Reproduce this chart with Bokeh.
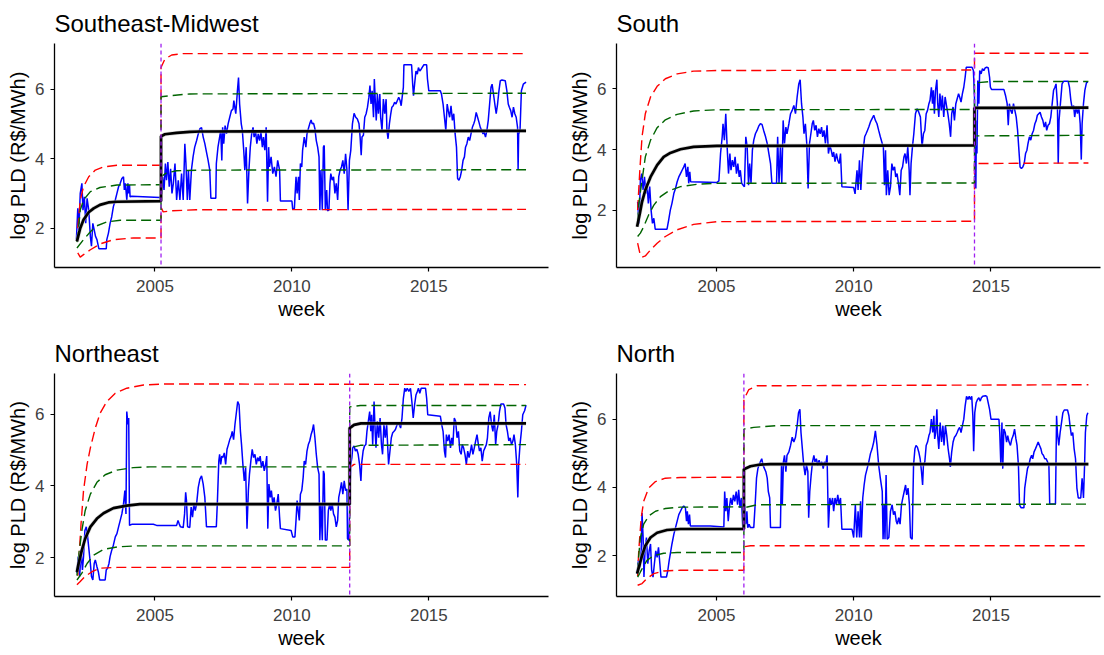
from bokeh.plotting import figure
from bokeh.layouts import column, row
from bokeh.models import Span, FixedTicker
from bokeh.embed import file_html
from bokeh.resources import INLINE

FONT = "Liberation Sans"

# ---------------- data ----------------
TITLES = ["Southeast-Midwest", "South", "Northeast", "North"]
X_TICKS = [2005, 2010, 2015]
Y_TICKS = [2, 4, 6]
CHANGEPOINTS = [2005.22, 2014.40, 2012.11, 2006.00]

# weekly log PLD (year, value)
SE_PLD = [(2002.13,1.67),(2002.18,2.57),(2002.22,1.95),(2002.27,3.00),(2002.33,3.29),(2002.37,2.52),(2002.42,2.90),
(2002.47,2.14),(2002.52,2.86),(2002.58,2.52),(2002.64,1.76),(2002.68,1.48),(2002.73,2.14),(2002.78,1.95),(2002.83,1.76),
(2002.88,1.67),(2002.95,1.41),(2003.22,1.41),(2003.24,1.67),(2003.30,1.86),(2003.36,2.14),(2003.42,2.33),(2003.48,2.62),
(2003.55,2.81),(2003.61,3.00),(2003.67,3.19),(2003.73,3.29),(2003.79,3.43),(2003.85,3.48),(2003.88,3.10),(2003.92,3.29),
(2003.97,2.81),(2004.01,3.29),(2004.04,3.00),(2004.07,3.24),(2004.09,2.90),(2004.15,2.92),(2005.18,2.88),(2005.24,3.00),
(2005.28,3.48),(2005.33,3.10),(2005.38,3.86),(2005.42,3.38),(2005.47,3.90),(2005.52,3.19),(2005.57,3.71),(2005.62,3.00),
(2005.67,3.29),(2005.73,3.86),(2005.79,2.81),(2005.85,3.38),(2005.91,2.81),(2005.97,3.57),(2006.03,2.81),(2006.09,4.43),
(2006.13,3.86),(2006.18,2.81),(2006.22,3.67),(2006.27,2.81),(2006.33,3.67),(2006.39,4.05),(2006.45,4.33),(2006.52,4.52),
(2006.58,4.71),(2006.64,4.86),(2006.70,4.89),(2006.76,4.62),(2006.82,4.43),(2006.88,4.19),(2006.94,3.95),(2007.00,3.67),
(2007.04,2.86),(2007.22,2.86),(2007.24,3.86),(2007.30,4.33),(2007.36,4.62),(2007.40,4.81),(2007.44,3.95),(2007.47,4.90),
(2007.51,4.43),(2007.56,4.95),(2007.61,4.71),(2007.67,5.00),(2007.73,5.19),(2007.79,5.38),(2007.85,5.43),(2007.88,5.67),
(2007.95,5.29),(2008.01,5.95),(2008.05,6.33),(2008.09,5.57),(2008.15,5.00),(2008.19,4.81),(2008.24,4.24),(2008.28,3.67),
(2008.33,4.33),(2008.38,2.71),(2008.43,3.67),(2008.48,4.33),(2008.53,4.71),(2008.58,4.90),(2008.62,4.62),(2008.67,4.81),
(2008.72,4.43),(2008.77,4.71),(2008.82,4.52),(2008.87,4.76),(2008.92,4.33),(2008.96,4.62),(2009.01,4.24),(2009.06,4.90),
(2009.11,2.76),(2009.15,4.33),(2009.18,3.76),(2009.24,4.05),(2009.30,3.57),(2009.36,3.76),(2009.42,3.48),(2009.48,3.95),
(2009.55,3.67),(2009.58,2.78),(2010.00,2.78),(2010.03,2.54),(2010.09,2.57),(2010.15,3.48),(2010.19,3.00),(2010.24,3.48),
(2010.27,2.81),(2010.31,3.86),(2010.36,3.76),(2010.39,4.24),(2010.45,4.62),(2010.51,4.33),(2010.55,4.71),(2010.60,4.86),
(2010.65,5.00),(2010.70,5.11),(2010.74,5.00),(2010.79,5.02),(2010.84,4.86),(2010.89,4.52),(2010.94,4.33),(2010.99,4.05),
(2011.02,2.52),(2011.06,3.67),(2011.11,2.52),(2011.15,4.33),(2011.18,4.38),(2011.22,2.52),(2011.27,3.10),(2011.30,2.50),
(2011.35,2.52),(2011.39,3.29),(2011.42,3.57),(2011.47,3.38),(2011.52,3.48),(2011.57,3.00),(2011.62,3.29),(2011.67,2.81),
(2011.71,3.48),(2011.76,3.67),(2011.81,3.76),(2011.86,3.95),(2011.91,3.57),(2011.96,4.14),(2012.01,3.67),(2012.05,2.52),
(2012.10,3.95),(2012.15,4.24),(2012.21,5.00),(2012.27,5.30),(2012.33,5.19),(2012.39,5.14),(2012.45,5.00),(2012.49,4.62),
(2012.53,4.10),(2012.56,4.62),(2012.61,4.67),(2012.66,5.19),(2012.71,5.29),(2012.76,5.48),(2012.81,5.76),(2012.85,6.10),
(2012.89,5.57),(2012.93,5.95),(2012.98,5.19),(2013.01,6.29),(2013.05,5.57),(2013.08,5.10),(2013.12,5.86),(2013.16,5.29),
(2013.21,5.86),(2013.24,5.19),(2013.29,4.81),(2013.34,5.71),(2013.39,5.29),(2013.44,5.71),(2013.47,4.81),(2013.51,4.57),
(2013.56,5.00),(2013.61,5.29),(2013.65,5.48),(2013.70,5.52),(2013.75,5.62),(2013.80,5.57),(2013.85,5.67),(2013.90,5.76),
(2013.95,5.67),(2013.99,5.52),(2014.04,5.86),(2014.07,6.05),(2014.09,6.70),(2014.37,6.70),(2014.41,6.14),(2014.44,5.81),
(2014.48,6.14),(2014.53,6.52),(2014.58,6.43),(2014.62,6.62),(2014.67,6.52),(2014.72,6.57),(2014.77,6.64),(2014.82,6.70),
(2014.92,6.70),(2014.95,6.29),(2015.00,5.95),(2015.42,5.95),(2015.46,5.86),(2015.52,5.57),(2015.57,5.19),(2015.62,4.81),
(2015.67,5.57),(2015.71,5.38),(2015.76,5.19),(2015.81,5.52),(2015.86,5.10),(2015.91,5.29),(2015.96,4.71),(2016.01,4.33),
(2016.05,3.43),(2016.10,3.38),(2016.15,3.48),(2016.20,3.67),(2016.25,3.95),(2016.30,4.05),(2016.34,4.33),(2016.39,4.43),
(2016.44,4.62),(2016.49,4.52),(2016.54,4.71),(2016.59,4.90),(2016.64,5.00),(2016.68,5.10),(2016.73,5.33),(2016.78,5.19),
(2016.83,5.05),(2016.88,4.90),(2016.93,4.81),(2016.98,4.71),(2017.02,4.76),(2017.07,4.62),(2017.12,4.81),(2017.17,5.10),
(2017.22,5.57),(2017.27,6.05),(2017.31,6.14),(2017.36,5.86),(2017.41,5.57),(2017.46,5.29),(2017.51,5.57),(2017.56,5.95),
(2017.61,6.24),(2017.67,6.26),(2017.79,6.24),(2017.85,5.95),(2017.90,5.57),(2017.94,5.48),(2017.99,5.38),(2018.04,5.19),
(2018.09,5.48),(2018.14,5.29),(2018.19,5.19),(2018.24,4.90),(2018.26,3.69),(2018.28,4.71),(2018.33,4.81),(2018.38,5.95),
(2018.45,6.14),(2018.55,6.20)]

S_PLD = [(2002.13,2.28),(2002.18,1.57),(2002.23,2.99),(2002.28,3.21),(2002.33,2.67),(2002.38,3.10),(2002.43,2.56),
(2002.47,2.89),(2002.52,2.23),(2002.57,2.78),(2002.62,2.01),(2002.67,1.57),(2002.72,1.74),(2002.77,1.38),(2003.20,1.38),
(2003.26,1.68),(2003.32,2.01),(2003.38,2.23),(2003.45,2.56),(2003.51,2.72),(2003.57,2.94),(2003.63,3.10),(2003.69,3.21),
(2003.75,3.32),(2003.81,3.43),(2003.86,3.54),(2003.91,3.10),(2003.96,3.43),(2003.99,2.89),(2004.03,3.27),(2004.06,2.94),
(2005.02,2.92),(2005.09,2.97),(2005.15,3.87),(2005.21,4.42),(2005.24,4.85),(2005.29,4.31),(2005.34,5.18),(2005.39,4.09),
(2005.44,3.21),(2005.49,3.87),(2005.53,3.32),(2005.58,3.65),(2005.63,3.43),(2005.68,3.76),(2005.73,3.21),(2005.78,3.54),
(2005.83,3.10),(2005.87,3.32),(2005.92,2.89),(2005.97,2.83),(2006.02,2.78),(2006.07,4.42),(2006.12,4.09),(2006.17,2.83),
(2006.21,3.54),(2006.26,2.89),(2006.31,3.98),(2006.36,4.31),(2006.42,4.52),(2006.48,4.63),(2006.54,4.77),(2006.60,4.85),
(2006.66,4.83),(2006.72,4.63),(2006.79,4.42),(2006.85,4.20),(2006.91,3.87),(2006.97,3.54),(2007.02,2.89),(2007.19,2.89),
(2007.23,4.42),(2007.28,2.89),(2007.33,4.09),(2007.38,2.89),(2007.43,4.96),(2007.48,4.20),(2007.53,4.74),(2007.57,4.52),
(2007.64,4.85),(2007.70,5.18),(2007.76,5.29),(2007.82,5.45),(2007.88,5.18),(2007.94,5.73),(2008.00,6.16),(2008.05,6.30),
(2008.10,5.51),(2008.15,5.07),(2008.19,4.52),(2008.24,4.85),(2008.29,4.20),(2008.34,2.72),(2008.39,4.20),(2008.44,4.52),
(2008.49,4.85),(2008.53,4.96),(2008.58,4.63),(2008.63,4.80),(2008.68,4.42),(2008.73,4.69),(2008.78,4.52),(2008.83,4.74),
(2008.87,4.42),(2008.92,4.63),(2008.97,4.20),(2009.03,4.80),(2009.08,3.87),(2009.13,4.14),(2009.18,3.98),(2009.23,3.76),
(2009.27,3.92),(2009.32,3.60),(2009.37,3.87),(2009.42,3.65),(2009.47,3.54),(2009.52,3.87),(2009.57,2.78),(2010.00,2.75),
(2010.05,2.54),(2010.12,3.32),(2010.16,2.67),(2010.21,3.65),(2010.26,2.67),(2010.31,3.54),(2010.36,4.09),(2010.40,4.42),
(2010.45,4.52),(2010.50,4.63),(2010.55,4.74),(2010.61,4.91),(2010.67,5.02),(2010.73,5.13),(2010.79,4.96),(2010.85,4.85),
(2010.91,4.63),(2010.97,4.42),(2011.04,4.20),(2011.08,4.09),(2011.12,2.83),(2011.16,3.98),(2011.19,2.50),(2011.24,3.32),
(2011.29,2.50),(2011.34,2.78),(2011.39,3.54),(2011.44,3.32),(2011.49,3.43),(2011.53,3.10),(2011.58,3.21),(2011.63,2.89),
(2011.68,2.50),(2011.73,3.32),(2011.78,3.43),(2011.83,3.76),(2011.87,3.87),(2011.92,3.54),(2011.97,4.09),(2012.02,3.32),
(2012.05,2.50),(2012.09,3.54),(2012.14,4.09),(2012.19,4.52),(2012.25,5.18),(2012.31,5.34),(2012.37,5.23),(2012.43,5.07),
(2012.49,4.09),(2012.54,4.52),(2012.59,4.63),(2012.64,5.18),(2012.69,5.29),(2012.74,5.51),(2012.78,5.62),(2012.83,6.05),
(2012.87,5.51),(2012.90,5.95),(2012.94,5.18),(2012.98,5.95),(2013.03,6.30),(2013.06,5.51),(2013.10,5.07),(2013.14,5.84),
(2013.19,5.29),(2013.23,5.78),(2013.28,5.07),(2013.33,5.73),(2013.38,5.45),(2013.43,5.18),(2013.48,4.85),(2013.53,4.42),
(2013.57,5.18),(2013.62,5.40),(2013.67,4.96),(2013.72,5.51),(2013.77,5.67),(2013.82,5.84),(2013.86,5.73),(2013.91,5.56),
(2013.96,5.84),(2014.01,6.05),(2014.06,6.38),(2014.10,6.71),(2014.31,6.71),(2014.36,6.60),(2014.40,5.73),(2014.42,3.10),
(2014.45,2.72),(2014.47,4.96),(2014.49,3.87),(2014.52,6.27),(2014.56,5.51),(2014.59,6.60),(2014.64,6.49),(2014.69,6.66),
(2014.74,6.60),(2014.79,6.69),(2014.84,6.71),(2014.90,6.69),(2014.95,6.38),(2014.98,6.05),(2015.02,5.98),(2015.47,5.98),
(2015.53,5.78),(2015.59,5.51),(2015.63,4.80),(2015.67,5.51),(2015.72,5.29),(2015.77,5.18),(2015.82,5.51),(2015.87,5.29),
(2015.92,5.07),(2015.97,4.63),(2016.01,4.09),(2016.06,3.43),(2016.11,3.38),(2016.16,3.43),(2016.21,3.54),(2016.26,3.87),
(2016.31,3.98),(2016.35,4.20),(2016.40,4.42),(2016.45,4.31),(2016.50,4.52),(2016.55,4.63),(2016.60,4.85),(2016.65,4.96),
(2016.69,5.13),(2016.74,5.18),(2016.79,5.23),(2016.84,5.07),(2016.89,4.96),(2016.94,4.74),(2016.99,4.91),(2017.03,4.63),
(2017.08,4.80),(2017.13,4.85),(2017.18,5.07),(2017.23,5.51),(2017.28,5.95),(2017.33,6.05),(2017.37,6.16),(2017.42,5.51),
(2017.45,3.54),(2017.48,4.96),(2017.53,5.51),(2017.59,6.16),(2017.65,6.25),(2017.81,6.25),(2017.86,6.05),(2017.91,5.62),
(2017.96,5.34),(2018.01,5.45),(2018.05,5.07),(2018.10,5.40),(2018.15,5.18),(2018.20,5.40),(2018.25,4.85),(2018.29,3.67),
(2018.32,4.85),(2018.37,5.51),(2018.42,5.95),(2018.48,6.20),(2018.53,6.22)]

NE_PLD = [(2002.15,1.57),(2002.20,2.03),(2002.25,1.48),(2002.30,2.21),(2002.35,1.66),(2002.39,2.03),(2002.44,2.76),
(2002.49,2.86),(2002.54,2.58),(2002.59,2.21),(2002.64,1.84),(2002.68,1.48),(2002.73,1.38),(2002.78,1.84),(2002.82,1.94),
(2002.88,1.75),(2002.93,1.61),(2002.98,1.38),(2003.18,1.38),(2003.22,1.66),(2003.27,1.71),(2003.32,1.84),(2003.36,2.03),
(2003.42,2.21),(2003.48,2.35),(2003.55,2.58),(2003.61,2.67),(2003.67,2.86),(2003.73,3.04),(2003.79,3.22),(2003.85,3.50),
(2003.90,3.87),(2003.94,3.22),(2003.97,6.07),(2004.01,5.71),(2004.04,5.89),(2004.07,2.90),(2004.15,2.93),(2004.94,2.93),
(2005.06,2.90),(2005.79,2.90),(2005.84,3.04),(2005.88,2.95),(2005.93,2.86),(2006.03,2.84),(2006.08,3.22),(2006.12,3.82),
(2006.15,3.59),(2006.19,2.86),(2006.27,2.84),(2006.32,3.41),(2006.37,3.13),(2006.42,3.50),(2006.47,3.31),(2006.52,3.50),
(2006.58,3.96),(2006.64,4.19),(2006.70,4.28),(2006.76,4.05),(2006.82,3.68),(2006.88,2.86),(2007.24,2.86),(2007.28,3.59),
(2007.33,4.69),(2007.36,4.88),(2007.40,4.60),(2007.44,4.83),(2007.48,4.79),(2007.53,4.92),(2007.58,4.60),(2007.63,5.02),
(2007.68,5.15),(2007.73,5.29),(2007.78,5.38),(2007.82,5.52),(2007.87,5.29),(2007.92,5.71),(2007.97,6.03),(2008.02,6.35),
(2008.07,6.26),(2008.12,5.52),(2008.16,5.15),(2008.21,4.60),(2008.26,4.14),(2008.31,4.51),(2008.36,2.81),(2008.41,3.87),
(2008.45,4.33),(2008.50,4.69),(2008.55,5.02),(2008.60,4.79),(2008.65,4.88),(2008.70,4.60),(2008.75,4.79),(2008.80,4.69),
(2008.84,4.83),(2008.89,4.51),(2008.94,4.69),(2008.99,4.42),(2009.04,4.60),(2009.08,4.83),(2009.12,2.81),(2009.16,4.05),
(2009.21,3.68),(2009.25,3.87),(2009.30,3.50),(2009.35,3.68),(2009.40,3.31),(2009.45,3.50),(2009.50,3.77),(2009.55,3.13),
(2009.58,2.81),(2009.97,2.76),(2010.03,2.58),(2010.11,2.58),(2010.15,3.04),(2010.19,3.59),(2010.24,3.22),(2010.27,3.04),
(2010.31,3.77),(2010.36,3.87),(2010.41,4.23),(2010.45,4.69),(2010.50,4.60),(2010.55,4.97),(2010.60,5.15),(2010.65,5.25),
(2010.70,5.43),(2010.74,5.52),(2010.79,5.71),(2010.84,5.34),(2010.89,4.88),(2010.94,4.51),(2010.99,4.33),(2011.02,2.49),
(2011.06,3.50),(2011.11,2.49),(2011.15,4.42),(2011.18,4.33),(2011.22,2.49),(2011.28,2.49),(2011.33,3.31),(2011.38,3.50),
(2011.42,3.31),(2011.47,3.50),(2011.52,3.22),(2011.57,3.13),(2011.62,2.86),(2011.67,3.04),(2011.71,3.68),(2011.76,3.87),
(2011.81,4.10),(2011.86,3.77),(2011.91,4.14),(2011.96,3.87),(2012.01,3.91),(2012.03,2.53),(2012.08,2.49),(2012.11,3.50),
(2012.15,4.60),(2012.19,4.79),(2012.22,5.06),(2012.27,5.11),(2012.32,4.97),(2012.37,5.02),(2012.42,4.88),(2012.47,4.60),
(2012.52,4.14),(2012.55,4.65),(2012.60,4.97),(2012.65,5.11),(2012.70,5.15),(2012.74,5.52),(2012.79,5.80),(2012.84,6.07),
(2012.88,5.52),(2012.91,5.98),(2012.95,5.15),(2013.00,6.35),(2013.04,5.52),(2013.07,5.06),(2013.12,5.80),(2013.17,5.34),
(2013.22,5.89),(2013.27,5.15),(2013.31,4.88),(2013.36,5.71),(2013.41,5.34),(2013.46,5.71),(2013.50,5.06),(2013.53,4.60),
(2013.58,4.97),(2013.63,5.34),(2013.68,5.48),(2013.73,5.52),(2013.78,5.57),(2013.82,5.66),(2013.87,5.75),(2013.92,5.71),
(2013.97,5.61),(2014.02,5.89),(2014.07,6.44),(2014.12,6.72),(2014.16,6.63),(2014.21,6.72),(2014.27,6.63),(2014.33,6.72),
(2014.38,6.35),(2014.43,5.89),(2014.48,6.26),(2014.53,6.53),(2014.58,6.63),(2014.62,6.72),(2014.67,6.58),(2014.72,6.72),
(2014.88,6.72),(2014.92,6.44),(2014.96,5.98),(2015.42,5.94),(2015.47,5.71),(2015.52,5.52),(2015.57,4.97),(2015.61,4.79),
(2015.64,5.43),(2015.69,5.25),(2015.74,5.43),(2015.79,5.06),(2015.84,5.34),(2015.88,5.15),(2015.93,5.89),(2015.98,5.80),
(2016.03,5.34),(2016.08,5.52),(2016.13,4.97),(2016.18,4.88),(2016.22,5.15),(2016.27,5.06),(2016.32,4.88),(2016.37,4.60),
(2016.42,4.97),(2016.47,4.79),(2016.52,4.97),(2016.56,5.15),(2016.61,4.88),(2016.66,5.06),(2016.71,5.25),(2016.76,5.43),
(2016.81,5.15),(2016.85,4.97),(2016.90,5.06),(2016.95,4.69),(2017.00,4.97),(2017.05,5.06),(2017.10,5.15),(2017.14,5.34),
(2017.19,5.89),(2017.24,6.07),(2017.29,5.71),(2017.34,5.52),(2017.39,5.98),(2017.44,5.15),(2017.48,5.52),(2017.53,5.71),
(2017.58,6.07),(2017.63,6.28),(2017.73,6.28),(2017.78,6.17),(2017.82,5.71),(2017.87,5.52),(2017.92,5.25),(2017.97,5.34),
(2018.02,5.15),(2018.07,5.25),(2018.11,5.43),(2018.16,5.15),(2018.21,4.60),(2018.25,3.68),(2018.28,4.60),(2018.33,5.15),
(2018.38,5.52),(2018.43,5.98),(2018.50,6.10),(2018.55,6.25)]

N_PLD = [(2002.11,1.47),(2002.16,1.86),(2002.21,1.66),(2002.26,2.14),(2002.29,3.25),(2002.33,2.53),(2002.36,1.37),
(2002.40,2.14),(2002.45,2.53),(2002.50,1.76),(2002.55,2.14),(2002.60,2.34),(2002.64,1.57),(2002.69,1.37),(2002.74,1.76),
(2002.79,2.14),(2002.84,1.95),(2002.89,2.24),(2002.94,1.76),(2002.98,1.37),(2003.18,1.37),(2003.23,1.57),(2003.28,1.86),
(2003.32,2.05),(2003.38,2.34),(2003.45,2.63),(2003.51,2.82),(2003.57,3.01),(2003.63,3.20),(2003.69,3.30),(2003.75,3.40),
(2003.81,3.45),(2003.87,3.40),(2003.91,3.01),(2003.94,3.30),(2003.98,2.92),(2004.02,3.20),(2004.05,2.87),(2004.78,2.87),
(2005.27,2.84),(2005.30,3.88),(2005.34,3.30),(2005.38,3.69),(2005.43,3.01),(2005.47,3.40),(2005.52,3.69),(2005.57,3.49),
(2005.62,3.78),(2005.67,3.59),(2005.72,3.88),(2005.77,3.49),(2005.81,3.93),(2005.86,3.40),(2005.91,3.69),(2005.96,2.82),
(2006.00,3.01),(2006.03,3.49),(2006.07,2.92),(2006.11,3.30),(2006.14,2.82),(2006.19,2.92),(2006.24,2.82),(2006.36,2.82),
(2006.41,3.49),(2006.46,4.27),(2006.51,4.55),(2006.55,4.65),(2006.60,4.75),(2006.65,4.84),(2006.70,4.65),(2006.75,4.55),
(2006.80,4.46),(2006.85,4.27),(2006.89,3.88),(2006.94,3.69),(2006.97,2.82),(2007.33,2.82),(2007.37,4.65),(2007.40,3.49),
(2007.44,4.75),(2007.48,4.94),(2007.53,4.46),(2007.57,4.94),(2007.64,5.04),(2007.70,5.23),(2007.76,5.47),(2007.82,5.33),
(2007.88,5.47),(2007.94,5.81),(2007.99,6.19),(2008.04,6.29),(2008.08,5.61),(2008.13,5.13),(2008.18,4.65),(2008.23,4.36),
(2008.28,4.65),(2008.33,4.46),(2008.36,3.11),(2008.40,3.88),(2008.45,4.36),(2008.50,4.75),(2008.55,4.94),(2008.59,4.75),
(2008.64,4.84),(2008.69,4.65),(2008.74,4.80),(2008.79,4.65),(2008.84,4.75),(2008.89,4.55),(2008.93,4.75),(2008.98,4.65),
(2009.03,4.94),(2009.08,2.82),(2009.13,3.69),(2009.18,3.49),(2009.23,3.69),(2009.27,3.30),(2009.32,3.69),(2009.37,3.49),
(2009.42,3.78),(2009.47,3.49),(2009.52,3.69),(2009.57,2.77),(2009.94,2.77),(2010.00,2.53),(2010.06,3.49),(2010.11,2.53),
(2010.16,3.30),(2010.21,2.53),(2010.25,3.59),(2010.28,2.53),(2010.33,3.69),(2010.38,4.07),(2010.43,4.36),(2010.49,4.55),
(2010.55,4.75),(2010.61,4.99),(2010.67,5.13),(2010.73,5.33),(2010.79,5.66),(2010.85,5.23),(2010.91,4.65),(2010.97,4.27),
(2011.04,3.88),(2011.07,2.48),(2011.11,3.49),(2011.14,2.48),(2011.18,4.36),(2011.22,2.48),(2011.28,2.53),(2011.34,3.30),
(2011.40,3.49),(2011.45,3.20),(2011.50,3.30),(2011.55,3.01),(2011.59,2.92),(2011.64,3.11),(2011.69,2.92),(2011.74,3.49),
(2011.79,3.69),(2011.84,3.88),(2011.89,4.07),(2011.93,3.78),(2011.98,3.98),(2012.03,3.49),(2012.07,2.53),(2012.13,2.48),
(2012.18,4.65),(2012.23,5.13),(2012.27,5.23),(2012.32,5.18),(2012.37,5.04),(2012.42,4.84),(2012.47,4.46),(2012.51,4.07),
(2012.54,4.65),(2012.59,4.75),(2012.64,5.23),(2012.69,5.33),(2012.74,5.52),(2012.78,5.61),(2012.83,6.00),(2012.88,5.61),
(2012.92,6.10),(2012.95,5.42),(2012.99,5.61),(2013.03,6.29),(2013.06,5.52),(2013.10,5.13),(2013.15,5.90),(2013.20,5.33),
(2013.25,5.81),(2013.29,5.23),(2013.34,5.81),(2013.39,5.52),(2013.44,5.13),(2013.49,4.84),(2013.52,4.60),(2013.57,5.04),
(2013.62,5.33),(2013.67,5.47),(2013.72,5.52),(2013.77,5.61),(2013.82,5.71),(2013.86,5.76),(2013.91,5.61),(2013.96,5.81),
(2014.01,6.00),(2014.06,6.39),(2014.11,6.67),(2014.16,6.58),(2014.21,6.67),(2014.25,6.58),(2014.30,6.67),(2014.34,6.10),
(2014.37,5.06),(2014.41,6.19),(2014.46,6.48),(2014.51,6.58),(2014.56,6.63),(2014.61,6.53),(2014.65,6.63),(2014.70,6.67),
(2014.80,6.69),(2014.85,6.67),(2014.90,6.48),(2014.95,6.29),(2015.00,6.00),(2015.29,6.00),(2015.32,5.61),(2015.36,4.65),
(2015.40,5.90),(2015.43,4.55),(2015.47,5.71),(2015.52,5.61),(2015.57,5.33),(2015.61,5.52),(2015.66,5.33),(2015.71,5.23),
(2015.76,5.42),(2015.81,5.52),(2015.86,5.71),(2015.91,5.42),(2015.95,5.23),(2016.00,4.65),(2016.04,3.49),(2016.10,3.40),
(2016.20,3.40),(2016.23,3.98),(2016.28,4.27),(2016.33,4.55),(2016.38,4.65),(2016.43,4.84),(2016.48,4.94),(2016.52,4.84),
(2016.57,5.04),(2016.62,5.13),(2016.67,5.23),(2016.72,5.33),(2016.77,5.23),(2016.82,5.13),(2016.86,4.99),(2016.91,4.94),
(2016.96,4.84),(2017.01,4.84),(2017.06,4.75),(2017.11,4.65),(2017.14,3.51),(2017.35,3.51),(2017.39,6.10),(2017.42,5.61),
(2017.47,5.23),(2017.52,5.61),(2017.57,5.90),(2017.62,6.19),(2017.67,6.27),(2017.79,6.27),(2017.84,6.10),(2017.88,5.81),
(2017.93,5.52),(2017.98,5.61),(2018.03,5.13),(2018.08,4.84),(2018.13,3.98),(2018.18,3.69),(2018.27,3.69),(2018.32,4.27),
(2018.37,3.69),(2018.41,4.65),(2018.44,5.61),(2018.49,6.10),(2018.53,6.19)]

# fitted mean (black) and bands (green = inner, red = outer), as read knots
SE_MEAN = [(2002.15,1.62),(2002.27,2.00),(2002.39,2.24),(2002.58,2.46),(2002.76,2.57),(2002.99,2.67),(2003.30,2.74),
(2003.61,2.76),(2005.22,2.78),(2005.22,4.64),(2005.36,4.70),(2005.79,4.74),(2006.27,4.77),(2006.64,4.78),(2018.55,4.80)]
SE_IN_HI = [(2002.15,1.60),(2002.22,2.10),(2002.27,2.52),(2002.39,2.81),(2002.64,3.05),(2002.99,3.17),(2003.61,3.24),
(2005.22,3.25),(2005.22,5.78),(2005.55,5.81),(2006.27,5.86),(2018.55,5.88)]
SE_IN_LO = [(2002.15,1.43),(2002.39,1.67),(2002.64,1.90),(2002.88,2.07),(2003.24,2.18),(2003.73,2.23),(2005.22,2.23),
(2005.22,3.48),(2005.42,3.59),(2005.79,3.65),(2006.64,3.67),(2018.55,3.68)]
SE_OUT_HI = [(2002.18,2.00),(2002.27,2.81),(2002.39,3.19),(2002.58,3.48),(2002.82,3.67),(2003.12,3.76),(2003.61,3.81),
(2005.22,3.81),(2005.22,6.62),(2005.36,6.86),(2005.61,6.98),(2006.03,7.02),(2018.55,7.02)]
SE_OUT_LO = [(2002.18,1.29),(2002.27,1.17),(2002.39,1.24),(2002.64,1.38),(2003.00,1.55),(2003.48,1.67),(2004.21,1.72),
(2005.22,1.72),(2005.22,2.60),(2005.30,2.47),(2005.60,2.50),(2006.50,2.53),(2018.55,2.54)]

S_MEAN = [(2002.11,1.46),(2002.21,1.90),(2002.29,2.28),(2002.41,2.67),(2002.60,3.10),(2002.84,3.49),(2003.08,3.76),
(2003.32,3.89),(2003.69,4.01),(2004.17,4.09),(2005.02,4.12),(2014.40,4.14),(2014.40,5.37),(2018.55,5.38)]
S_IN_HI = [(2002.13,1.60),(2002.17,2.20),(2002.29,2.99),(2002.41,3.76),(2002.60,4.31),(2002.84,4.72),(2003.14,4.98),
(2003.57,5.16),(2004.17,5.27),(2005.02,5.31),(2014.40,5.32),(2014.40,6.19),(2015.00,6.24),(2018.55,6.24)]
S_IN_LO = [(2002.13,1.14),(2002.23,1.25),(2002.35,1.46),(2002.53,1.85),(2002.72,2.17),(2002.96,2.45),(2003.26,2.64),
(2003.69,2.78),(2004.30,2.86),(2005.02,2.89),(2014.40,2.90),(2014.40,4.45),(2018.55,4.47)]
S_OUT_HI = [(2002.13,2.01),(2002.21,3.32),(2002.29,4.42),(2002.41,5.18),(2002.60,5.73),(2002.84,6.08),(2003.14,6.33),
(2003.57,6.49),(2004.17,6.58),(2005.02,6.60),(2014.40,6.62),(2014.40,7.17),(2018.55,7.17)]
S_OUT_LO = [(2002.13,0.92),(2002.21,0.59),(2002.29,0.46),(2002.41,0.50),(2002.60,0.70),(2002.84,0.92),(2003.14,1.14),
(2003.57,1.36),(2004.17,1.54),(2005.02,1.63),(2014.40,1.64),(2014.40,3.54),(2018.55,3.56)]

NE_MEAN = [(2002.15,1.60),(2002.21,1.84),(2002.33,2.21),(2002.45,2.53),(2002.64,2.86),(2002.88,3.09),(2003.12,3.24),
(2003.48,3.38),(2003.97,3.45),(2004.45,3.49),(2012.11,3.49),(2012.11,5.61),(2012.27,5.70),(2012.52,5.74),(2018.55,5.74)]
NE_IN_HI = [(2002.15,1.50),(2002.21,2.03),(2002.33,2.76),(2002.45,3.31),(2002.64,3.77),(2002.88,4.10),(2003.18,4.31),
(2003.61,4.44),(2004.21,4.51),(2004.82,4.53),(2012.11,4.53),(2012.11,6.20),(2012.50,6.24),(2018.55,6.24)]
NE_IN_LO = [(2002.15,1.38),(2002.33,1.57),(2002.52,1.84),(2002.76,2.07),(2003.12,2.23),(2003.61,2.30),(2004.33,2.33),
(2012.11,2.33),(2012.11,5.06),(2012.50,5.13),(2018.55,5.15)]
NE_OUT_HI = [(2002.18,1.50),(2002.21,1.84),(2002.30,2.95),(2002.39,3.87),(2002.52,4.60),(2002.64,5.06),(2002.82,5.61),
(2003.00,6.03),(2003.24,6.35),(2003.55,6.58),(2003.97,6.72),(2004.58,6.81),(2005.42,6.84),(2018.55,6.82)]
NE_OUT_LO = [(2002.15,1.25),(2002.27,1.34),(2002.45,1.48),(2002.70,1.61),(2003.00,1.71),(2003.61,1.73),(2012.11,1.73),
(2012.11,4.51),(2012.27,4.60),(2018.55,4.60)]

N_MEAN = [(2002.11,1.47),(2002.21,1.76),(2002.29,2.00),(2002.41,2.29),(2002.60,2.53),(2002.84,2.67),(2003.20,2.75),
(2003.69,2.78),(2006.00,2.78),(2006.00,4.53),(2006.24,4.62),(2006.60,4.67),(2006.97,4.68),(2018.55,4.68)]
N_IN_HI = [(2002.13,1.50),(2002.17,2.00),(2002.23,2.53),(2002.35,2.92),(2002.53,3.16),(2002.78,3.30),(2003.14,3.38),
(2003.69,3.42),(2006.00,3.43),(2006.00,5.71),(2006.36,5.76),(2007.21,5.81),(2018.55,5.81)]
N_IN_LO = [(2002.13,1.37),(2002.29,1.61),(2002.47,1.86),(2002.72,2.00),(2003.08,2.07),(2003.57,2.09),(2006.00,2.09),
(2006.00,3.40),(2006.48,3.49),(2018.55,3.51)]
N_OUT_HI = [(2002.13,1.40),(2002.17,2.14),(2002.26,3.11),(2002.35,3.59),(2002.53,3.98),(2002.78,4.17),(2003.14,4.27),
(2003.69,4.29),(2006.00,4.30),(2006.00,6.58),(2006.18,6.87),(2006.48,6.98),(2018.55,7.01)]
N_OUT_LO = [(2002.13,1.13),(2002.29,1.18),(2002.47,1.33),(2002.72,1.47),(2003.08,1.55),(2003.69,1.57),(2006.00,1.57),
(2006.00,2.26),(2006.24,2.29),(2018.55,2.29)]

Y_RANGES = [(0.87, 7.31), (0.12, 7.49), (0.92, 7.13), (0.80, 7.34)]
X_RANGE_LEFT = (2001.33, 2019.37)
X_RANGE_RIGHT = (2001.36, 2018.99)   # right-hand panels are cut at the picture edge

# ---------------- drawing ----------------
def xs(pts):
    return [a for a, b in pts]

def ys(pts):
    return [b for a, b in pts]

def panel(title, pld, mean, in_hi, in_lo, out_hi, out_lo, cp, xr, yr, w, h, bl, br, bt, bb):
    p = figure(width=w, height=h, x_range=xr, y_range=yr, output_backend="svg",
               toolbar_location=None, min_border_left=bl, min_border_right=br,
               min_border_top=bt, min_border_bottom=bb)
    p.outline_line_color = None
    p.xgrid.visible = False
    p.ygrid.visible = False
    p.title.text = title
    p.title.text_font = FONT
    p.title.text_font_size = "24px"
    p.title.text_font_style = "normal"
    p.title.text_color = "black"
    p.title.align = "left"
    p.title.offset = 0
    p.title.standoff = 14

    p.xaxis.ticker = FixedTicker(ticks=X_TICKS)
    p.yaxis.ticker = FixedTicker(ticks=Y_TICKS)
    p.xaxis.axis_label = "week"
    p.yaxis.axis_label = "log PLD (R$/MWh)"
    for ax in (p.xaxis[0], p.yaxis[0]):
        ax.axis_line_color = "black"
        ax.axis_line_width = 1.3
        ax.major_tick_line_color = "black"
        ax.major_tick_line_width = 1.2
        ax.major_tick_out = 4
        ax.major_tick_in = 0
        ax.minor_tick_line_color = None
        ax.major_label_text_font = FONT
        ax.major_label_text_font_size = "17px"
        ax.major_label_text_color = "#404040"
        ax.axis_label_text_font = FONT
        ax.axis_label_text_font_size = "20px"
        ax.axis_label_text_font_style = "normal"
        ax.axis_label_text_color = "black"
    p.xaxis.major_label_standoff = 8
    p.xaxis.axis_label_standoff = 3
    p.yaxis.major_label_standoff = 6
    p.yaxis.axis_label_standoff = 3

    p.line(xs(pld), ys(pld), line_color="#0000FF", line_width=1.5)
    for band in (out_hi, out_lo):
        p.line(xs(band), ys(band), line_color="#FF0000", line_width=1.4, line_dash="10 5")
    for band in (in_hi, in_lo):
        p.line(xs(band), ys(band), line_color="#006400", line_width=1.4, line_dash="10 5")
    p.line(xs(mean), ys(mean), line_color="#BBBBBB", line_width=4.0, line_alpha=0.6)
    p.line(xs(mean), ys(mean), line_color="black", line_width=2.7)
    p.add_layout(Span(location=cp, dimension="height", line_color="#A020F0",
                      line_dash="4 3", line_width=1.3))
    return p

p1 = panel(TITLES[0], SE_PLD, SE_MEAN, SE_IN_HI, SE_IN_LO, SE_OUT_HI, SE_OUT_LO, CHANGEPOINTS[0],
           X_RANGE_LEFT, Y_RANGES[0], 552, 327, 54, 4, 42, 60)
p2 = panel(TITLES[1], S_PLD, S_MEAN, S_IN_HI, S_IN_LO, S_OUT_HI, S_OUT_LO, CHANGEPOINTS[1],
           X_RANGE_RIGHT, Y_RANGES[1], 550, 327, 64, 2, 42, 60)
p3 = panel(TITLES[2], NE_PLD, NE_MEAN, NE_IN_HI, NE_IN_LO, NE_OUT_HI, NE_OUT_LO, CHANGEPOINTS[2],
           X_RANGE_LEFT, Y_RANGES[2], 552, 327, 54, 4, 46, 58)
p4 = panel(TITLES[3], N_PLD, N_MEAN, N_IN_HI, N_IN_LO, N_OUT_HI, N_OUT_LO, CHANGEPOINTS[3],
           X_RANGE_RIGHT, Y_RANGES[3], 550, 327, 64, 2, 46, 58)

layout = column(row(p1, p2, spacing=0), row(p3, p4, spacing=0), spacing=0)
open("out.html", "w").write(file_html(layout, INLINE))
